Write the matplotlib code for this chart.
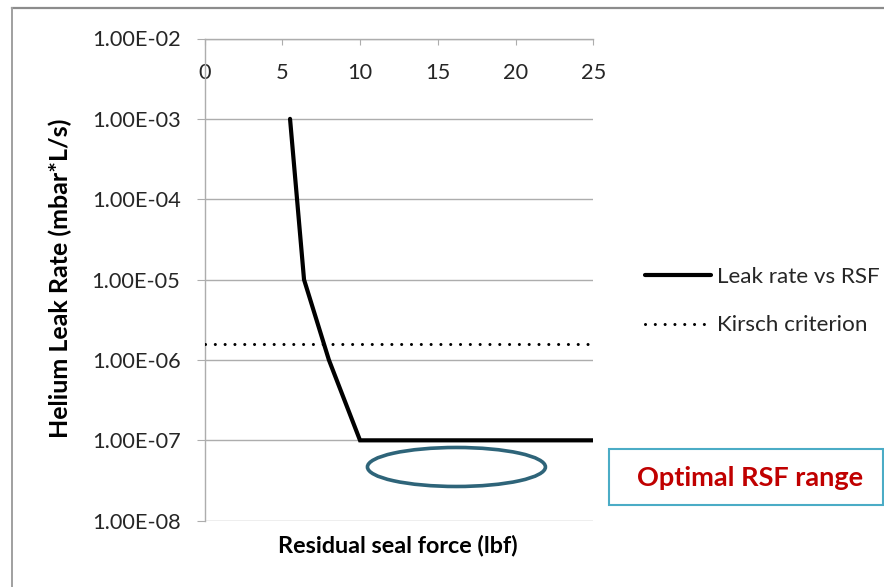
import matplotlib
matplotlib.use("Agg")
import matplotlib.pyplot as plt
from matplotlib.patches import Ellipse, Rectangle
from matplotlib.lines import Line2D
from matplotlib.ticker import FixedLocator, FuncFormatter, NullLocator

plt.rcParams['font.family'] = ['Lato', 'DejaVu Sans']

# Residual seal force (lbf) vs helium leak rate (mbar*L/s)
rsf = [5.5, 6.4, 8.0, 10.0, 25.0]
leak_rate = [1e-3, 1e-5, 1e-6, 1e-7, 1e-7]

# Kirsch leak-tightness criterion
kirsch_x = [0, 25]
kirsch_level = [1.6e-6, 1.6e-6]

x_ticks = [0, 5, 10, 15, 20, 25]
y_ticks = [1e-2, 1e-3, 1e-4, 1e-5, 1e-6, 1e-7, 1e-8]

W, H = 884, 587
fig = plt.figure(figsize=(W / 100, H / 100), dpi=100)
fig.patch.set_facecolor('white')

ax_left, ax_right = 204.5, 593.3
ax_top, ax_bottom = 38.5, 520.7
ax = fig.add_axes([ax_left / W, 1 - ax_bottom / H,
                   (ax_right - ax_left) / W, (ax_bottom - ax_top) / H])

grid_c = '#ADADAD'
text_c = '#262626'

ax.set_yscale('log')
ax.set_xlim(0, 25)
ax.set_ylim(1e-8, 1e-2)

ax.plot(rsf, leak_rate, color='black', lw=3.0, solid_capstyle='round',
        solid_joinstyle='miter', label='Leak rate vs RSF', zorder=3)
ax.plot(kirsch_x, kirsch_level, color='black', lw=2.2,
        linestyle=(0, (0.01, 3.2)), dash_capstyle='round',
        label='Kirsch criterion', zorder=3)

# y axis: decades with gridlines
ax.yaxis.set_major_locator(FixedLocator(y_ticks))
ax.yaxis.set_minor_locator(NullLocator())
ax.yaxis.set_major_formatter(FuncFormatter(lambda v, p: '%.2E' % v))
ax.grid(axis='y', color=grid_c, lw=1.0)
ax.tick_params(axis='y', direction='out', length=5.8, width=0.8,
               color=grid_c, pad=11.5, labelsize=15.7, labelcolor=text_c)

# x axis along the top, labels sitting just below it
ax.xaxis.set_major_locator(FixedLocator(x_ticks))
ax.xaxis.tick_top()
ax.tick_params(axis='x', which='both', top=True, bottom=False,
               labeltop=True, labelbottom=False, direction='in',
               length=4.5, width=0.8, color=grid_c, pad=-32,
               labelsize=15.7, labelcolor=text_c)

for side in ['right', 'bottom']:
    ax.spines[side].set_visible(False)
for side in ['left', 'top']:
    ax.spines[side].set_color(grid_c)
    ax.spines[side].set_linewidth(1.0)
ax.set_axisbelow(True)

# axis titles
fig.text(60 / W, 1 - 278.5 / H, 'Helium Leak Rate (mbar*L/s)', rotation=90,
         ha='center', va='center', fontsize=18, fontweight='bold', color='black')
fig.text(397.5 / W, 1 - 545 / H, 'Residual seal force (lbf)',
         ha='center', va='center', fontsize=16.8, fontweight='bold', color='black')

# legend
fig.legend(loc='upper left', bbox_to_anchor=(625 / W, 1 - 247 / H),
           frameon=False, fontsize=16.2, handlelength=2.93, handletextpad=0.27,
           labelspacing=1.25, labelcolor=text_c)

# highlight of the flat region
ax.add_patch(Ellipse((0.648, 0.1114), 0.4578, 0.0809, transform=ax.transAxes,
                     fill=False, edgecolor='#2E6479', lw=2.6, zorder=4))

# callout box
fig.add_artist(Rectangle((608.5 / W, 1 - 504.5 / H), (883 - 608.5) / W,
                         (504.5 - 449) / H, transform=fig.transFigure,
                         fill=False, edgecolor='#4BACC6', lw=1.5))
fig.text(750 / W, 1 - 477.5 / H, 'Optimal RSF range', ha='center', va='center',
         fontsize=19.5, fontweight='bold', color='#C00000')

# outer frame (top and left edges)
fig.add_artist(Line2D([12 / W, 1], [1 - 7.5 / H, 1 - 7.5 / H],
                      transform=fig.transFigure, color='#8C8C8C', lw=1.6))
fig.add_artist(Line2D([12 / W, 12 / W], [0, 1 - 7.5 / H],
                      transform=fig.transFigure, color='#A0A0A0', lw=1.4))

fig.savefig('out.png', dpi=100, facecolor='white')
